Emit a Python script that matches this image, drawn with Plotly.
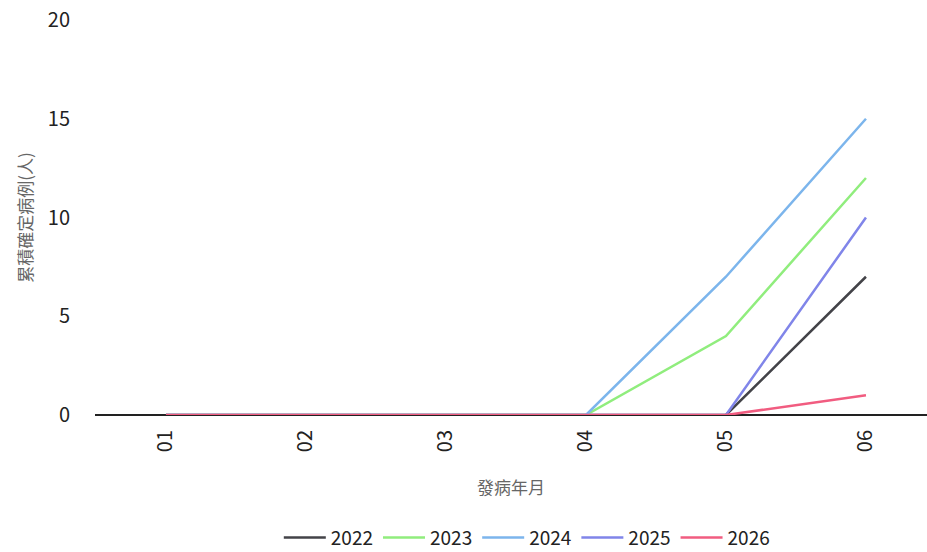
import plotly.graph_objects as go

months = ["01", "02", "03", "04", "05", "06"]
years = ["2022", "2023", "2024", "2025", "2026"]
v2022 = [0, 0, 0, 0, 0, 7]
v2023 = [0, 0, 0, 0, 4, 12]
v2024 = [0, 0, 0, 0, 7, 15]
v2025 = [0, 0, 0, 0, 0, 10]
v2026 = [0, 0, 0, 0, 0, 1]
colors = ["#434348", "#90ed7d", "#7cb5ec", "#8085e9", "#f15c80"]
series = [v2022, v2023, v2024, v2025, v2026]

FONT = "Noto Sans CJK TC"

fig = go.Figure()
for name, vals, c in zip(years, series, colors):
    fig.add_trace(go.Scatter(
        x=list(range(len(months))), y=vals, name=name, mode="lines",
        line=dict(color=c, width=2.5),
    ))

fig.update_layout(
    width=927, height=552,
    margin=dict(l=95, r=0, t=20, b=137, autoexpand=False),
    paper_bgcolor="white", plot_bgcolor="white",
    font=dict(family=FONT, color="#222", size=18),
    xaxis=dict(
        tickmode="array", tickvals=list(range(len(months))), ticktext=months,
        range=[-0.507, 5.436], tickangle=-90, showgrid=False, zeroline=False,
        showline=False, ticks="", ticklabelstandoff=10,
        tickfont=dict(size=20, color="#222"),
        title=dict(text="發病年月", font=dict(size=17, color="#666"), standoff=30),
    ),
    yaxis=dict(
        range=[0, 20], tickvals=[0, 5, 10, 15, 20], showgrid=False,
        zeroline=True, zerolinecolor="#222", zerolinewidth=1.5,
        showline=False, ticks="", ticklabelstandoff=24,
        tickfont=dict(size=20, color="#222"),
        title=dict(text="累積確定病例(人)", font=dict(size=17, color="#666"), standoff=10),
    ),
    legend=dict(
        orientation="h", x=0.519, xanchor="center",
        yref="container", y=0.026, yanchor="middle",
        font=dict(size=19, color="#222"), itemwidth=42,
    ),
)

fig.write_html("out.html")
